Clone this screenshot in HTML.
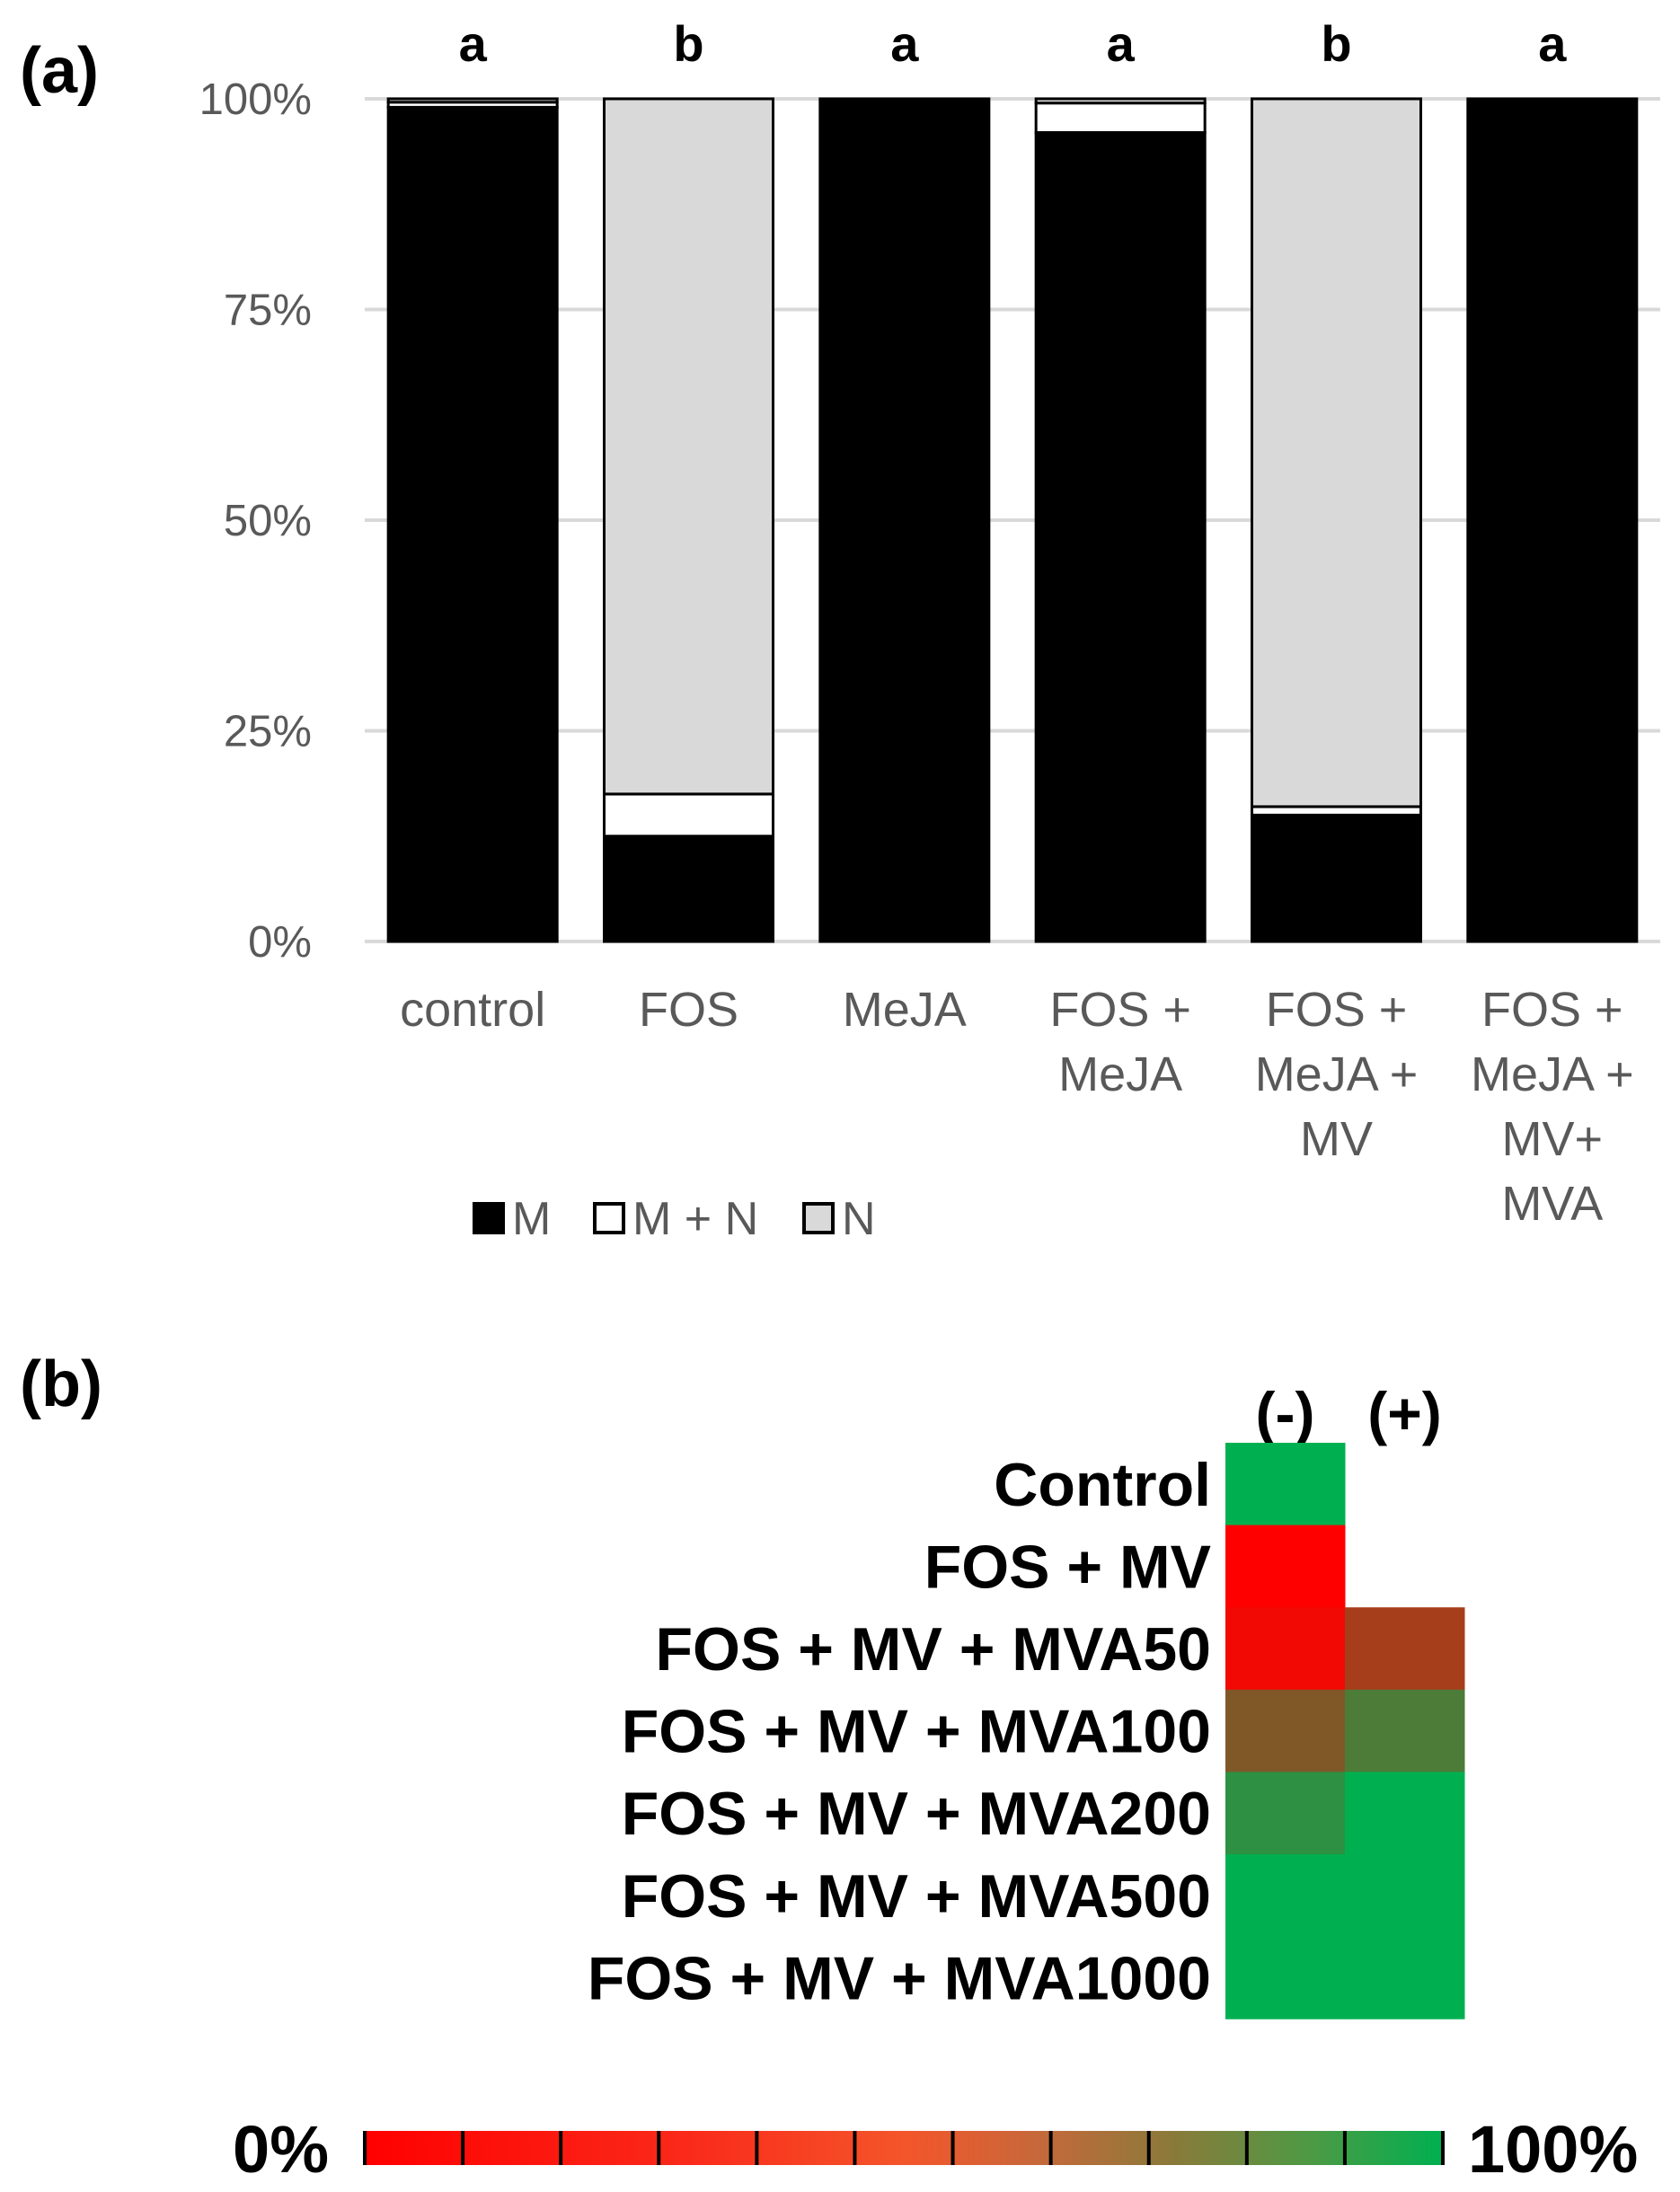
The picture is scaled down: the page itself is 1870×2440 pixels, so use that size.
<!DOCTYPE html>
<html><head><meta charset="utf-8"><style>
html,body{margin:0;padding:0;background:#fff}
svg{display:block}
text{font-family:"Liberation Sans",Arial,sans-serif}
</style></head><body>
<svg id="fig" width="1870" height="2440" viewBox="0 0 1870 2440">
<text x="22" y="103" font-size="72" font-weight="bold">(a)</text>
<g id="chartA"></g>
<text x="22" y="1565" font-size="72" font-weight="bold">(b)</text>
<g id="chartB"></g>
</svg>
<script>
const categories=[["control"],["FOS"],["MeJA"],["FOS +","MeJA"],["FOS +","MeJA +","MV"],["FOS +","MeJA +","MV+","MVA"]];
const letters=["a","b","a","a","b","a"];
const seriesM=[99,12.5,100,96,15,100];
const seriesMN=[0.6,5,0,3.5,1,0];
const seriesN=[0.4,82.5,0,0.5,84,0];
const yTicks=[0,25,50,75,100];
const tickLabels=["0%","25%","50%","75%","100%"];

const rowLabels=["Control","FOS + MV","FOS + MV + MVA50","FOS + MV + MVA100","FOS + MV + MVA200","FOS + MV + MVA500","FOS + MV + MVA1000"];
const colLabels=["(-)","(+)"];
const valuesMinus=[100,0,5,50,82,100,100];
const valuesPlus=[null,null,35,70,100,100,100];
const scaleEnds=["0%","100%"];
const scaleSegments=11;

const NS="http://www.w3.org/2000/svg";
function mk(tag,attrs,parent){const e=document.createElementNS(NS,tag);for(const k in attrs)e.setAttribute(k,attrs[k]);parent.appendChild(e);return e;}

// ---- chart A
const A=document.getElementById('chartA');
const x0=406,x1=1848,yTop=110,yBot=1048;
const band=(x1-x0)/categories.length,barW=188;
const y=v=>yBot-(yBot-yTop)*v/100;
const xc=i=>x0+band*(i+0.5);
yTicks.forEach((t,i)=>{
  const g=mk('line',{x1:x0,x2:x1,y1:y(t),y2:y(t),stroke:'#d9d9d9','stroke-width':4},A);
  
  
  const tx=mk('text',{x:347,y:y(t)+17,'font-size':49,'text-anchor':'end',fill:'#595959'},A);
  tx.textContent=tickLabels[i];
  
  
});
const fills=['#000','#fff','#d9d9d9'];
const names=['m','m-plus-n','n'];
categories.forEach((c,i)=>{
  const vals=[seriesM[i],seriesMN[i],seriesN[i]];
  let acc=0;
  vals.forEach((v,s)=>{
    if(v<=0)return;
    const r=mk('rect',{x:xc(i)-barW/2,y:y(acc+v),width:barW,height:y(acc)-y(acc+v),fill:fills[s],stroke:'#000','stroke-width':3},A);
    
    
    acc+=v;
  });
  const l=mk('text',{x:xc(i),y:68,'font-size':56,'font-weight':'bold','text-anchor':'middle'},A);
  l.textContent=letters[i];
  
  
  c.forEach((line,k)=>{
    const t=mk('text',{x:xc(i),y:1142+k*72,'font-size':54,'text-anchor':'middle',fill:'#595959'},A);
    t.textContent=line;
    
    
  });
});
// legend
const legendItems=[["M",528,'#000'],["M + N",662,'#fff'],["N",895,'#d9d9d9']];
legendItems.forEach(([lab,lx,f])=>{
  const r=mk('rect',{x:lx,y:1340,width:32,height:32,fill:f,stroke:'#000','stroke-width':4},A);
  
  
  const t=mk('text',{x:lx+42,y:1374,'font-size':52,fill:'#595959'},A);
  t.textContent=lab;
  
  
});

// ---- chart B
const B=document.getElementById('chartB');
const hx0=1364,cw=133,hy0=1606,rh=91.6;
function cellColor(v){const t=v/100;const r=Math.round(255*(1-t)),g=Math.round(176*t),b=Math.round(80*t);return `rgb(${r},${g},${b})`;}
colLabels.forEach((c,j)=>{
  const t=mk('text',{x:hx0+cw*(j+0.5),y:1596,'font-size':66,'font-weight':'bold','text-anchor':'middle'},B);
  t.textContent=c;
  
  
});
rowLabels.forEach((lab,i)=>{
  const t=mk('text',{x:1348,y:hy0+rh*(i+0.5)+24,'font-size':68,'font-weight':'bold','text-anchor':'end'},B);
  t.textContent=lab;
  
  
  [valuesMinus[i],valuesPlus[i]].forEach((v,j)=>{
    if(v===null)return;
    const r=mk('rect',{x:hx0+cw*j,y:hy0+rh*i,width:cw+0.5,height:rh+0.5,fill:cellColor(v)},B);
    
    
  });
});
// color scale
const cbx0=406,cbx1=1606,cby=2372,cbh=38;
const defs=mk('defs',{},B);
const grad=mk('linearGradient',{id:'cg',x1:0,x2:1,y1:0,y2:0},defs);
[[0,'#ff0000'],[0.3,'#fa2a1a'],[0.5,'#f4552a'],[0.62,'#c8683a'],[0.75,'#8a7a3a'],[0.88,'#4c9a44'],[1,'#00b050']].forEach(([o,c])=>mk('stop',{offset:o,'stop-color':c},grad));
const cb=mk('rect',{x:cbx0,y:cby,width:cbx1-cbx0,height:cbh,fill:'url(#cg)'},B);


for(let k=0;k<=scaleSegments;k++){
  const lx=cbx0+(cbx1-cbx0)*k/scaleSegments;
  const d=mk('line',{x1:lx,x2:lx,y1:cby,y2:cby+cbh,stroke:'#000','stroke-width':4},B);
  
  
}
const e0=mk('text',{x:366,y:2418,'font-size':74,'font-weight':'bold','text-anchor':'end'},B);
e0.textContent=scaleEnds[0];


const e1=mk('text',{x:1634,y:2418,'font-size':74,'font-weight':'bold'},B);
e1.textContent=scaleEnds[1];


</script>
</body></html>
